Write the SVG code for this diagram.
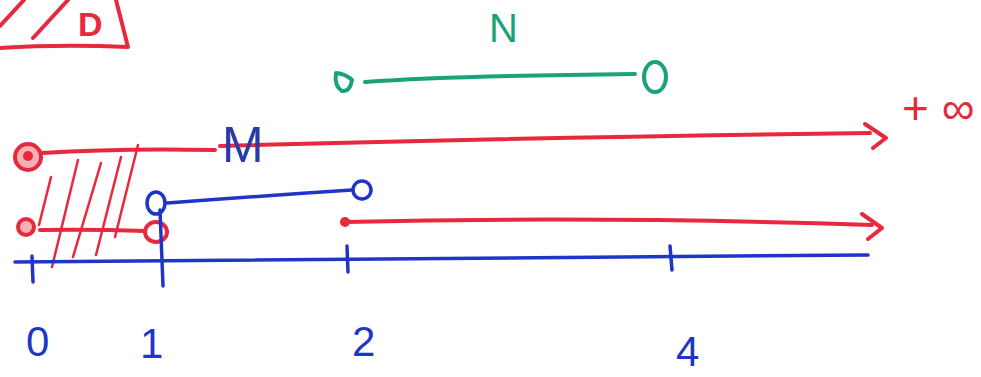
<svg xmlns="http://www.w3.org/2000/svg" width="981" height="377" viewBox="0 0 981 377">
<style>
.r{stroke:#e8283c;fill:none;stroke-width:4;stroke-linecap:round;stroke-linejoin:round}
.rt{stroke:#e8283c;fill:none;stroke-width:2.5;stroke-linecap:round}
.b{stroke:#1f35c8;fill:none;stroke-width:3.5;stroke-linecap:round;stroke-linejoin:round}
.g{stroke:#1aa37a;fill:none;stroke-width:4;stroke-linecap:round;stroke-linejoin:round}
.lb{font-family:"Liberation Sans",Arial,sans-serif;fill:#1f35c8;font-size:42px}
.lr{font-family:"Liberation Sans",Arial,sans-serif;fill:#e8283c;font-size:34px}
.lg{font-family:"Liberation Sans",Arial,sans-serif;fill:#1aa37a;font-size:40px}
</style>
<rect width="981" height="377" fill="#fff"/>
<g id="setD">
<path class="r" d="M0 48 Q60 44 128 47 L116 0"/>
<path class="r" d="M0 26 L24 0 M33 38 L68 0"/>
<text class="lr" x="78" y="36" font-weight="bold">D</text>
</g>
<g id="setN">
<text class="lg" x="489" y="42">N</text>
<path class="g" d="M365 82 Q450 76 635 74"/>
<path class="g" d="M336 73 Q346 74 352 80 Q350 92 342 91 Q334 86 336 73 Z"/>
<ellipse class="g" cx="655" cy="77" rx="11" ry="15"/>
</g>
<g id="setM">
<circle cx="28" cy="157" r="13" fill="#f7b0b6" stroke="#e8283c" stroke-width="4"/>
<circle cx="28" cy="156" r="5" fill="#e8283c"/>
<path class="r" d="M42 153 Q120 148 215 150"/>
<path class="r" d="M220 146 Q500 138 870 133"/>
<path class="r" d="M865 124 L886 138 L873 148"/>
<text class="lb" x="222" y="162" style="font-size:50px;fill:#2a3aa8">M</text>
<text class="lr" x="902" y="124" style="font-size:46px">+ ∞</text>
</g>
<g id="hatch">
<path class="rt" d="M51 177 L39 225 M78 160 L52 267 M101 163 L73 257 M121 157 L96 255 M138 145 L115 237"/>
</g>
<g id="setBlue">
<ellipse class="b" cx="156" cy="203" rx="9" ry="11"/>
<path class="b" d="M167 203 Q260 196 352 190"/>
<circle class="b" cx="362" cy="190" r="9"/>
</g>
<g id="setRed1">
<circle cx="26" cy="227" r="8" fill="#f7b0b6" stroke="#e8283c" stroke-width="4"/>
<path class="r" d="M40 230 Q90 229 145 231"/>
<ellipse class="r" cx="156" cy="232" rx="11" ry="10"/>
</g>
<g id="setRed2">
<circle cx="345" cy="222" r="5" fill="#e8283c"/>
<path class="r" d="M345 222 Q600 216 872 225"/>
<path class="r" d="M862 214 L882 228 L868 239"/>
</g>
<g id="axis">
<path class="b" d="M15 262 Q400 258 868 255"/>
<path class="b" d="M32 256 L33 282 M160 210 L163 286 M347 246 L348 272 M670 246 L672 270"/>
<text class="lb" x="26" y="356">0</text>
<text class="lb" x="140" y="358">1</text>
<text class="lb" x="352" y="356">2</text>
<text class="lb" x="676" y="366">4</text>
</g>
</svg>
